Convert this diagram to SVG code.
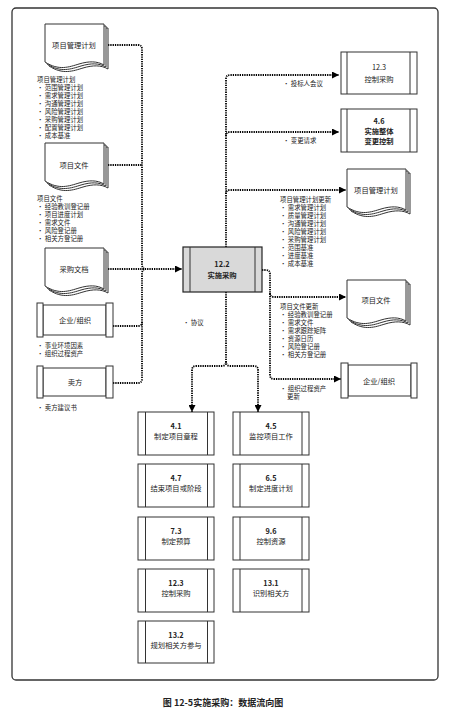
<svg xmlns="http://www.w3.org/2000/svg" xmlns:xlink="http://www.w3.org/1999/xlink" width="453" height="712" viewBox="0 0 453 712">
<style>
text{font-family:"Noto Sans CJK SC","Noto Sans",sans-serif;fill:#222}
.lbl{font-size:7.3px;text-anchor:middle}
.num{font-size:7.3px;text-anchor:middle;font-weight:bold}
.lst{font-size:6.4px}
.box{fill:#fff;stroke:#333;stroke-width:1}
.ln{stroke:#333;stroke-width:1}
.flow{fill:none;stroke:#000;stroke-width:1.8;stroke-dasharray:1.3 1}
.cap{font-size:9px;font-weight:bold;text-anchor:middle}
</style>
<defs>
<marker id="arr" viewBox="0 0 10 10" refX="10" refY="5" markerUnits="userSpaceOnUse" markerWidth="7" markerHeight="7" orient="auto">
<path d="M0,0 L10,5 L0,10 Z" fill="#000"/>
</marker>
<g id="doc">
<path d="M4,4 H63 V45 C56,41 48,41 38,44 C28,47 18,51 4,42 Z" class="box"/>
<path d="M2,2 H61 V43 C54,39 46,39 36,42 C26,45 16,49 2,40 Z" class="box"/>
<path d="M0,0 H59 V41 C52,37 44,37 34,40 C24,43 14,47 0,38 Z" class="box"/>
</g>
</defs>
<rect x="12" y="8" width="426" height="672" rx="4" fill="#fff" stroke="#333" stroke-width="1.3"/>

<g id="connectors">
<path class="flow" d="M108,45 H138 Q142,45 142,49 V264 Q142,269 146,269"/>
<path class="flow" d="M113,383 H138 Q142,383 142,379 V274 Q142,269 146,269"/>
<path class="flow" d="M108,165 H142"/>
<path class="flow" d="M113,326 H138 Q142,326 142,322"/>
<path class="flow" d="M108,269 H182" marker-end="url(#arr)"/>
<path class="flow" d="M226,247 V79 Q226,75 230,75 H339" marker-end="url(#arr)"/>
<path class="flow" d="M226,136 Q226,132 230,132 H339" marker-end="url(#arr)"/>
<path class="flow" d="M226,194 Q226,190 230,190 H346" marker-end="url(#arr)"/>
<path class="flow" d="M262,270 H266 Q270,270 270,274 V375 Q270,379 274,379 H341" marker-end="url(#arr)"/>
<path class="flow" d="M270,293 Q270,297 274,297 H346" marker-end="url(#arr)"/>
<path class="flow" d="M226,292 V361 Q226,366 222,366 H196 Q192,366 192,370 V412" marker-end="url(#arr)"/>
<path class="flow" d="M226,361 Q226,366 230,366 H254 Q258,366 258,370 V412" marker-end="url(#arr)"/>
</g>

<g id="in-pmp">
<use xlink:href="#doc" x="45" y="24"/>
<text class="lbl" x="74" y="48">项目管理计划</text>
<text class="lst" x="37" y="82">项目管理计划</text>
<text class="lst" x="37" y="90">• 范围管理计划</text>
<text class="lst" x="37" y="98">• 需求管理计划</text>
<text class="lst" x="37" y="106">• 沟通管理计划</text>
<text class="lst" x="37" y="114">• 风险管理计划</text>
<text class="lst" x="37" y="122">• 采购管理计划</text>
<text class="lst" x="37" y="130">• 配置管理计划</text>
<text class="lst" x="37" y="138">• 成本基准</text>
</g>
<g id="in-pd">
<use xlink:href="#doc" x="45" y="143"/>
<text class="lbl" x="74" y="168">项目文件</text>
<text class="lst" x="37" y="201">项目文件</text>
<text class="lst" x="37" y="209">• 经验教训登记册</text>
<text class="lst" x="37" y="217">• 项目进度计划</text>
<text class="lst" x="37" y="225">• 需求文件</text>
<text class="lst" x="37" y="233">• 风险登记册</text>
<text class="lst" x="37" y="241">• 相关方登记册</text>
</g>
<g id="in-procdocs">
<use xlink:href="#doc" x="45" y="248"/>
<text class="lbl" x="74" y="272">采购文档</text>
</g>
<g id="in-org">
<rect class="box" x="43" y="305" width="63" height="30"/>
<rect class="box" x="37" y="303" width="6" height="34"/>
<rect class="box" x="106" y="303" width="7" height="34"/>
<text class="lbl" x="75" y="323">企业/组织</text>
<text class="lst" x="37" y="348">• 事业环境因素</text>
<text class="lst" x="37" y="356">• 组织过程资产</text>
</g>
<g id="in-seller">
<rect class="box" x="43" y="368" width="63" height="28"/>
<rect class="box" x="37" y="366" width="6" height="32"/>
<rect class="box" x="106" y="366" width="7" height="32"/>
<text class="lbl" x="75" y="385">卖方</text>
<text class="lst" x="37" y="410">• 卖方建议书</text>
</g>

<g id="p12-2">
<rect x="183" y="247" width="79" height="45" fill="#d9d9d9" stroke="#222" stroke-width="1.2"/>
<line class="ln" x1="190" y1="247" x2="190" y2="292"/>
<line class="ln" x1="255" y1="247" x2="255" y2="292"/>
<text class="num" x="222" y="267">12.2</text>
<text class="num" x="222" y="278">实施采购</text>
</g>
<text class="lst" x="183" y="325">• 协议</text>

<g id="out-12-3">
<rect class="box" x="341" y="52" width="76" height="42"/>
<line class="ln" x1="347" y1="52" x2="347" y2="94"/>
<line class="ln" x1="410" y1="52" x2="410" y2="94"/>
<text class="lbl" x="379" y="70">12.3</text>
<text class="lbl" x="379" y="82">控制采购</text>
</g>
<text class="lst" x="283" y="86">• 投标人会议</text>
<g id="out-4-6">
<rect class="box" x="341" y="109" width="76" height="43"/>
<line class="ln" x1="347" y1="109" x2="347" y2="152"/>
<line class="ln" x1="410" y1="109" x2="410" y2="152"/>
<text class="num" x="379" y="124">4.6</text>
<text class="num" x="379" y="134">实施整体</text>
<text class="num" x="379" y="144">变更控制</text>
</g>
<text class="lst" x="283" y="143">• 变更请求</text>
<g id="out-pmp">
<use xlink:href="#doc" x="347" y="169"/>
<text class="lbl" x="376" y="193">项目管理计划</text>
<text class="lst" x="280" y="202">项目管理计划更新</text>
<text class="lst" x="280" y="210">• 需求管理计划</text>
<text class="lst" x="280" y="218">• 质量管理计划</text>
<text class="lst" x="280" y="226">• 沟通管理计划</text>
<text class="lst" x="280" y="234">• 风险管理计划</text>
<text class="lst" x="280" y="242">• 采购管理计划</text>
<text class="lst" x="280" y="250">• 范围基准</text>
<text class="lst" x="280" y="258">• 进度基准</text>
<text class="lst" x="280" y="266">• 成本基准</text>
</g>
<g id="out-pd">
<use xlink:href="#doc" x="347" y="280"/>
<text class="lbl" x="376" y="303">项目文件</text>
<text class="lst" x="280" y="309">项目文件更新</text>
<text class="lst" x="280" y="317">• 经验教训登记册</text>
<text class="lst" x="280" y="325">• 需求文件</text>
<text class="lst" x="280" y="333">• 需求跟踪矩阵</text>
<text class="lst" x="280" y="341">• 资源日历</text>
<text class="lst" x="280" y="349">• 风险登记册</text>
<text class="lst" x="280" y="357">• 相关方登记册</text>
</g>
<g id="out-org">
<rect class="box" x="348" y="365" width="63" height="31"/>
<rect class="box" x="341" y="363" width="7" height="35"/>
<rect class="box" x="411" y="363" width="6" height="35"/>
<text class="lbl" x="379" y="384">企业/组织</text>
<text class="lst" x="280" y="391">• 组织过程资产</text>
<text class="lst" x="287" y="399">更新</text>
</g>

<g id="p4-1"><rect class="box" x="138" y="412" width="76" height="43"/><line class="ln" x1="145.5" y1="412" x2="145.5" y2="455"/><line class="ln" x1="207.5" y1="412" x2="207.5" y2="455"/><text class="num" x="176" y="429">4.1</text><text class="lbl" x="176" y="439">制定项目章程</text></g>
<g id="p4-5"><rect class="box" x="233" y="412" width="76" height="43"/><line class="ln" x1="240" y1="412" x2="240" y2="455"/><line class="ln" x1="302" y1="412" x2="302" y2="455"/><text class="num" x="271" y="429">4.5</text><text class="lbl" x="271" y="439">监控项目工作</text></g>
<g id="p4-7"><rect class="box" x="138" y="464" width="76" height="43"/><line class="ln" x1="145.5" y1="464" x2="145.5" y2="507"/><line class="ln" x1="207.5" y1="464" x2="207.5" y2="507"/><text class="num" x="176" y="481">4.7</text><text class="lbl" x="176" y="491">结束项目或阶段</text></g>
<g id="p6-5"><rect class="box" x="233" y="464" width="76" height="43"/><line class="ln" x1="240" y1="464" x2="240" y2="507"/><line class="ln" x1="302" y1="464" x2="302" y2="507"/><text class="num" x="271" y="481">6.5</text><text class="lbl" x="271" y="491">制定进度计划</text></g>
<g id="p7-3"><rect class="box" x="138" y="517" width="76" height="43"/><line class="ln" x1="145.5" y1="517" x2="145.5" y2="560"/><line class="ln" x1="207.5" y1="517" x2="207.5" y2="560"/><text class="num" x="176" y="534">7.3</text><text class="lbl" x="176" y="544">制定预算</text></g>
<g id="p9-6"><rect class="box" x="233" y="517" width="76" height="43"/><line class="ln" x1="240" y1="517" x2="240" y2="560"/><line class="ln" x1="302" y1="517" x2="302" y2="560"/><text class="num" x="271" y="534">9.6</text><text class="lbl" x="271" y="544">控制资源</text></g>
<g id="p12-3"><rect class="box" x="138" y="569" width="76" height="43"/><line class="ln" x1="145.5" y1="569" x2="145.5" y2="612"/><line class="ln" x1="207.5" y1="569" x2="207.5" y2="612"/><text class="num" x="176" y="586">12.3</text><text class="lbl" x="176" y="596">控制采购</text></g>
<g id="p13-1"><rect class="box" x="233" y="569" width="76" height="43"/><line class="ln" x1="240" y1="569" x2="240" y2="612"/><line class="ln" x1="302" y1="569" x2="302" y2="612"/><text class="num" x="271" y="586">13.1</text><text class="lbl" x="271" y="596">识别相关方</text></g>
<g id="p13-2"><rect class="box" x="138" y="621" width="76" height="42"/><line class="ln" x1="145.5" y1="621" x2="145.5" y2="663"/><line class="ln" x1="207.5" y1="621" x2="207.5" y2="663"/><text class="num" x="176" y="638">13.2</text><text class="lbl" x="176" y="648">规划相关方参与</text></g>

<text class="cap" x="223" y="706">图 12-5实施采购：数据流向图</text>
</svg>
